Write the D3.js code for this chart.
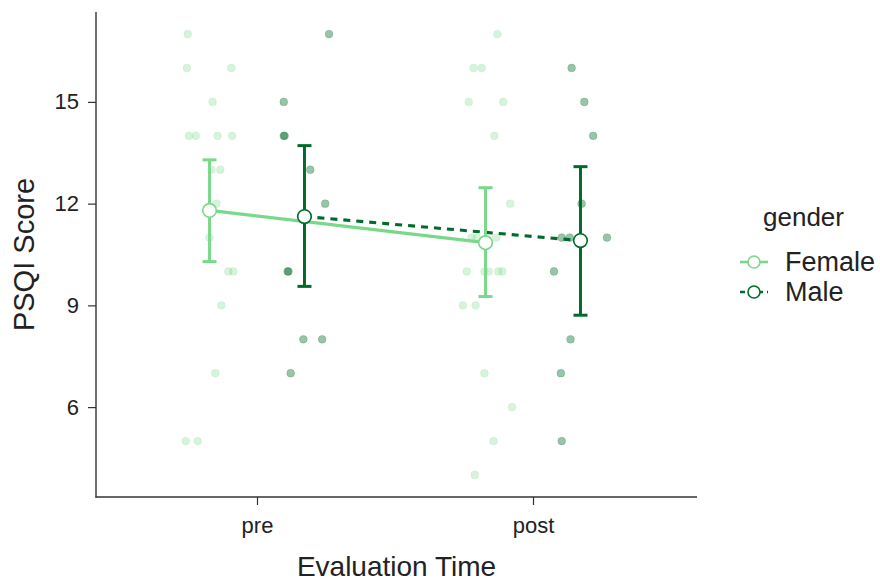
<!DOCTYPE html>
<html>
<head>
<meta charset="utf-8">
<script src="https://cdn.jsdelivr.net/npm/d3@7"></script>
<style>
  html, body { margin: 0; padding: 0; background: #fff; }
  svg { display: block; font-family: "Liberation Sans", Arial, sans-serif; }
</style>
</head>
<body>
<svg id="chart" width="880" height="581"></svg>
<script>
// Evaluation times and gender groups
const times = ["pre", "post"];
const genders = ["Female", "Male"];
const yTicks = [6, 9, 12, 15];

// Individual PSQI scores: [score, horizontal jitter (in category units)]
const femalePre = [
  [17, -0.079], [16, -0.082], [16, 0.079], [15, 0.011],
  [14, -0.075], [14, -0.050], [14, 0.029], [14, 0.082],
  [13, 0.007], [13, 0.039], [12, 0.025], [11, 0.000],
  [10, 0.068], [10, 0.086], [9, 0.043], [7, 0.021],
  [5, -0.086], [5, -0.043]
];
const malePre = [
  [17, 0.089], [15, -0.075], [14, -0.075], [14, -0.072],
  [13, 0.021], [12, 0.075], [10, -0.061], [10, -0.058],
  [8, -0.004], [8, 0.064], [7, -0.050]
];
const femalePost = [
  [17, 0.043], [16, -0.043], [16, -0.014], [15, -0.061], [15, 0.064],
  [14, 0.032], [12, 0.089], [11, -0.050], [11, -0.032], [11, 0.039],
  [10, -0.068], [10, -0.004], [10, 0.011], [10, 0.046], [10, 0.061],
  [9, -0.082], [9, -0.036], [7, -0.004], [6, 0.096], [5, 0.029], [4, -0.039]
];
const malePost = [
  [16, -0.032], [15, 0.014], [14, 0.046], [12, 0.004],
  [11, -0.068], [11, -0.039], [11, 0.096], [10, -0.096],
  [8, -0.036], [7, -0.071], [5, -0.068]
];

// Group means with confidence limits, in order pre, post
const femaleMean = [11.80, 10.85];
const femaleLower = [10.29, 9.26];
const femaleUpper = [13.29, 12.47];
const maleMean = [11.62, 10.91];
const maleLower = [9.56, 8.71];
const maleUpper = [13.71, 13.09];

const colors = { Female: "#7ad88a", Male: "#006b2b" };
const pointAlpha = { Female: 0.3, Male: 0.4 };

const raw = [
  ["pre", "Female", femalePre], ["pre", "Male", malePre],
  ["post", "Female", femalePost], ["post", "Male", malePost]
];
const points = [];
raw.forEach(([t, g, arr]) => arr.forEach(([v, j]) => points.push({ time: t, gender: g, value: v, jitter: j })));

const summary = [];
genders.forEach(g => times.forEach((t, i) => {
  const m = g === "Female" ? [femaleMean, femaleLower, femaleUpper] : [maleMean, maleLower, maleUpper];
  summary.push({ time: t, gender: g, mean: m[0][i], lo: m[1][i], hi: m[2][i] });
}));

const svg = d3.select("#chart");
const plot = { left: 96, right: 697, top: 12, bottom: 497 };

// Discrete x positions, with dodging between genders
const unit = 276;
const x = d3.scalePoint().domain(times).range([257, 533]);
const dodge = { Female: -0.172, Male: 0.172 };
const xPos = (t, g, j = 0) => x(t) + (dodge[g] + j) * unit;

const y = d3.scaleLinear().domain([3.35, 17.65]).range([plot.bottom, plot.top]);

// Jittered raw points
svg.append("g").selectAll("circle").data(points).join("circle")
  .attr("cx", d => xPos(d.time, d.gender, d.jitter))
  .attr("cy", d => y(d.value))
  .attr("r", 3.9)
  .attr("fill", d => colors[d.gender])
  .attr("fill-opacity", d => pointAlpha[d.gender])
  .attr("stroke", d => colors[d.gender])
  .attr("stroke-opacity", d => pointAlpha[d.gender] * 0.8)
  .attr("stroke-width", 0.6);

// Mean trend lines
const line = d3.line().x(d => xPos(d.time, d.gender)).y(d => y(d.mean));
genders.forEach(g => {
  svg.append("path")
    .datum(summary.filter(d => d.gender === g))
    .attr("d", line)
    .attr("fill", "none")
    .attr("stroke", colors[g])
    .attr("stroke-width", 3.1)
    .attr("stroke-dasharray", g === "Male" ? "7,6" : null);
});

// Error bars
const cap = 7;
const eb = svg.append("g");
summary.forEach(d => {
  const cx = xPos(d.time, d.gender);
  const c = colors[d.gender];
  eb.append("line").attr("x1", cx).attr("x2", cx).attr("y1", y(d.lo)).attr("y2", y(d.hi))
    .attr("stroke", c).attr("stroke-width", 3);
  [d.lo, d.hi].forEach(v => eb.append("line")
    .attr("x1", cx - cap).attr("x2", cx + cap).attr("y1", y(v)).attr("y2", y(v))
    .attr("stroke", c).attr("stroke-width", 3));
});

// Mean markers
svg.append("g").selectAll("circle").data(summary).join("circle")
  .attr("cx", d => xPos(d.time, d.gender))
  .attr("cy", d => y(d.mean))
  .attr("r", 6.8)
  .attr("fill", "#fff")
  .attr("stroke", d => colors[d.gender])
  .attr("stroke-width", 1.6);

// Axes
const axisColor = "#333";
const yAxis = svg.append("g").attr("transform", `translate(${plot.left},0)`)
  .call(d3.axisLeft(y).tickValues(yTicks).tickSize(8).tickPadding(9));
const xAxis = svg.append("g").attr("transform", `translate(0,${plot.bottom})`)
  .call(d3.axisBottom(x).tickSize(8).tickPadding(12));
[yAxis, xAxis].forEach(a => {
  a.select(".domain").remove();
  a.selectAll(".tick line").attr("stroke", axisColor).attr("stroke-width", 1.2);
  a.selectAll(".tick text").attr("fill", "#222").style("font-size", "22px")
    .style("font-family", "Liberation Sans, Arial, sans-serif");
});
svg.append("line").attr("x1", plot.left).attr("x2", plot.left)
  .attr("y1", plot.top).attr("y2", plot.bottom + 0.6)
  .attr("stroke", axisColor).attr("stroke-width", 1.4);
svg.append("line").attr("x1", plot.left - 0.6).attr("x2", plot.right)
  .attr("y1", plot.bottom).attr("y2", plot.bottom)
  .attr("stroke", axisColor).attr("stroke-width", 1.4);

// Axis titles
svg.append("text").attr("x", (plot.left + plot.right) / 2).attr("y", 576)
  .attr("text-anchor", "middle").attr("fill", "#222").style("font-size", "28px")
  .text("Evaluation Time");
svg.append("text").attr("transform", `translate(34,${(plot.top + plot.bottom) / 2}) rotate(-90)`)
  .attr("text-anchor", "middle").attr("fill", "#222").style("font-size", "29px")
  .text("PSQI Score");

// Legend
const legend = svg.append("g").attr("transform", "translate(740,0)");
legend.append("text").attr("x", 23).attr("y", 226).attr("fill", "#222")
  .style("font-size", "26px").text("gender");
genders.forEach((g, i) => {
  const ly = 262 + i * 30;
  legend.append("line").attr("x1", 0).attr("x2", 28).attr("y1", ly).attr("y2", ly)
    .attr("stroke", colors[g]).attr("stroke-width", 2.6)
    .attr("stroke-dasharray", g === "Male" ? "5,4" : null);
  legend.append("circle").attr("cx", 14).attr("cy", ly).attr("r", 6)
    .attr("fill", "#fff").attr("stroke", colors[g]).attr("stroke-width", 1.6);
  legend.append("text").attr("x", 45).attr("y", ly + 9).attr("fill", "#222")
    .style("font-size", "27px").text(g);
});
</script>
</body>
</html>
